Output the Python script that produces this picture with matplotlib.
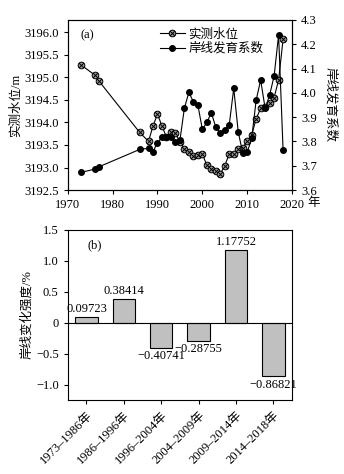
import numpy as np
import matplotlib
matplotlib.use('Agg')
import matplotlib.pyplot as plt
from matplotlib.path import Path

# panel (a) data: measured water level (left axis) and shoreline development coefficient (right axis)
years = [1973, 1976, 1977, 1986, 1988, 1989, 1990, 1991, 1992, 1993, 1994, 1995, 1996,
         1997, 1998, 1999, 2000, 2001, 2002, 2003, 2004, 2005, 2006, 2007, 2008, 2009,
         2010, 2011, 2012, 2013, 2014, 2015, 2016, 2017, 2018]
water_level = [3195.27, 3195.05, 3194.91, 3193.78, 3193.58, 3193.92, 3194.18, 3193.92,
               3193.67, 3193.78, 3193.76, 3193.56, 3193.42, 3193.34, 3193.25, 3193.27,
               3193.30, 3193.05, 3192.97, 3192.93, 3192.86, 3193.04, 3193.30, 3193.30,
               3193.41, 3193.43, 3193.59, 3193.72, 3194.08, 3194.31, 3194.35, 3194.44,
               3194.55, 3194.94, 3195.84]
shoreline_coef = [3.673, 3.686, 3.696, 3.767, 3.772, 3.758, 3.795, 3.817, 3.819, 3.819,
                  3.799, 3.805, 3.937, 4.002, 3.963, 3.950, 3.850, 3.878, 3.918, 3.859,
                  3.835, 3.847, 3.869, 4.018, 3.840, 3.752, 3.755, 3.813, 3.970, 4.053,
                  3.936, 3.991, 4.069, 4.238, 3.765]

# panel (b) data: shoreline change intensity per period
periods = ['1973–1986年', '1986–1996年', '1996–2004年', '2004–2009年', '2009–2014年', '2014–2018年']
change_rate = [0.09723, 0.38414, -0.40741, -0.28755, 1.17752, -0.86821]

plt.rcParams['font.family'] = ['Liberation Serif', 'Noto Sans CJK SC']
plt.rcParams['font.size'] = 9
plt.rcParams['axes.linewidth'] = 0.8
plt.rcParams['xtick.major.width'] = 0.8
plt.rcParams['ytick.major.width'] = 0.8
plt.rcParams['xtick.major.size'] = 3
plt.rcParams['ytick.major.size'] = 3

fig = plt.figure(figsize=(3.44, 4.74), dpi=100)

# circle with a cross inside, for the water level markers
circle = Path.unit_circle()
cross = Path([(-0.7, -0.7), (0.7, 0.7), (-0.7, 0.7), (0.7, -0.7)],
             [Path.MOVETO, Path.LINETO, Path.MOVETO, Path.LINETO])
otimes = Path.make_compound_path(circle, cross)

# ++ panel (a) ++
ax1 = fig.add_axes([0.197, 0.599, 0.652, 0.359])
ax2 = ax1.twinx()

l1, = ax1.plot(years, water_level, color='black', lw=0.8, marker=otimes, ms=4.8,
               mfc='0.6', mec='black', mew=0.7, label='实测水位')
l2, = ax2.plot(years, shoreline_coef, color='black', lw=0.8, marker='o', ms=4,
               label='岸线发育系数')

ax1.set_xlim(1970, 2020)
ax1.set_xticks(range(1970, 2021, 10))
ax1.set_ylim(3192.5, 3196.27)
ax1.set_yticks(np.arange(3192.5, 3196.01, 0.5))
ax1.set_yticklabels([f'{v:.1f}' for v in np.arange(3192.5, 3196.01, 0.5)])
ax1.set_ylabel('实测水位/m', labelpad=2)

ax2.set_ylim(3.6, 4.3)
ax2.set_yticks(np.arange(3.6, 4.31, 0.1))
ax2.set_yticklabels([f'{v:.1f}' for v in np.arange(3.6, 4.31, 0.1)])
ax2.set_ylabel('岸线发育系数', rotation=270, va='bottom', labelpad=5)

ax1.text(0.055, 0.91, '(a)', transform=ax1.transAxes, ha='left', va='center')
ax1.text(1.068, -0.078, '年', transform=ax1.transAxes, ha='left', va='center')

ax2.legend([l1, l2], ['实测水位', '岸线发育系数'], loc='upper left',
           bbox_to_anchor=(0.41, 0.95), frameon=False, borderaxespad=0, borderpad=0,
           handlelength=2.0, handletextpad=0.3, labelspacing=0.15, fontsize=9)

# ++ panel (b) ++
ax3 = fig.add_axes([0.197, 0.156, 0.652, 0.359])
x = np.arange(len(periods))
ax3.bar(x, change_rate, width=0.6, color='#c0c0c0', edgecolor='black', linewidth=0.8)
ax3.axhline(0, color='black', lw=0.8)

for xi, v in zip(x, change_rate):
    txt = f'{v:.5f}'.replace('-', '−')
    if v >= 0:
        ax3.annotate(txt, (xi, v), xytext=(0, 1.5), textcoords='offset points',
                     ha='center', va='bottom')
    else:
        ax3.annotate(txt, (xi, v), xytext=(0, -1.5), textcoords='offset points',
                     ha='center', va='top')

ax3.set_xlim(-0.5, 5.5)
ax3.set_ylim(-1.25, 1.5)
ax3.set_yticks([-1.0, -0.5, 0, 0.5, 1.0, 1.5])
ax3.set_yticklabels(['−1.0', '−0.5', '0', '0.5', '1.0', '1.5'])
ax3.set_xticks(x)
ax3.set_xticklabels(periods, rotation=45, ha='right', rotation_mode='anchor')
ax3.set_ylabel('岸线变化强度/%', labelpad=2)
ax3.text(0.09, 0.912, '(b)', transform=ax3.transAxes, ha='left', va='center')

fig.savefig('out.png', dpi=100)
